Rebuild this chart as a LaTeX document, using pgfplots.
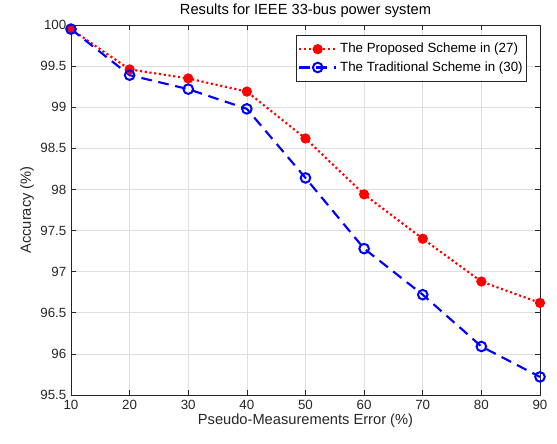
\documentclass[border=0pt]{standalone}
\usepackage{pgfplots}
\pgfplotsset{compat=1.18}
\usepackage{fontspec}
\setmainfont{Liberation Sans}
\definecolor{axgray}{RGB}{38,38,38}
\definecolor{gridgray}{RGB}{223,223,223}
\begin{document}
\begin{tikzpicture}
\path[use as bounding box] (-53.25pt,-36pt) rectangle (364.5pt,296.25pt);
\begin{axis}[
  scale only axis,
  width=351.75pt, height=277.5pt,
  xmin=10, xmax=90, ymin=95.5, ymax=100,
  xtick={10,20,...,90},
  ytick={95.5,96,...,100},
  yticklabels={95.5,96,96.5,97,97.5,98,98.5,99,99.5,100},
  /pgf/number format/assume math mode=true,
  tick label style={font=\fontsize{10}{12}\selectfont, text=axgray},
  tick align=inside,
  major tick length=4pt,
  axis line style={axgray, line width=0.5pt},
  every tick/.style={axgray, line width=0.5pt},
  grid=major,
  major grid style={gridgray, line width=0.5pt},
  title={Results for IEEE 33-bus power system},
  title style={font=\fontsize{11}{13}\selectfont, yshift=-4pt},
  xlabel={Pseudo-Measurements Error (\%)},
  ylabel={Accuracy (\%)},
  label style={font=\fontsize{11}{13}\selectfont, text=axgray},
  xlabel style={yshift=3pt},
  ylabel style={yshift=-2pt},
  legend style={at={(rel axis cs:1,1)}, anchor=north east, xshift=-9.75pt, yshift=-7.5pt,
    font=\fontsize{10}{12}\selectfont, draw=axgray, line width=0.5pt, inner xsep=1pt, inner ysep=4pt,
    row sep=1pt},
  legend cell align=left,
  legend image code/.code={\draw[mark repeat=2,mark phase=2,#1] plot coordinates {(0pt,0pt) (14pt,0pt) (28pt,0pt)};},
]
\addplot[red, line width=1.6pt, dotted, mark=*, mark size=3pt, mark options={solid, fill=red, draw=red}]
coordinates {(10,99.95) (20,99.46) (30,99.35) (40,99.19) (50,98.62) (60,97.94) (70,97.40) (80,96.88) (90,96.62)};
\addlegendentry{The Proposed Scheme in (27)}
\addplot[blue, line width=1.6pt, dash pattern=on 8pt off 5pt, mark=o, mark size=3.6pt, mark options={solid, draw=blue, line width=1.5pt}]
coordinates {(10,99.95) (20,99.39) (30,99.22) (40,98.98) (50,98.14) (60,97.28) (70,96.72) (80,96.09) (90,95.72)};
\addlegendentry{The Traditional Scheme in (30)}
\end{axis}
\end{tikzpicture}
\end{document}
